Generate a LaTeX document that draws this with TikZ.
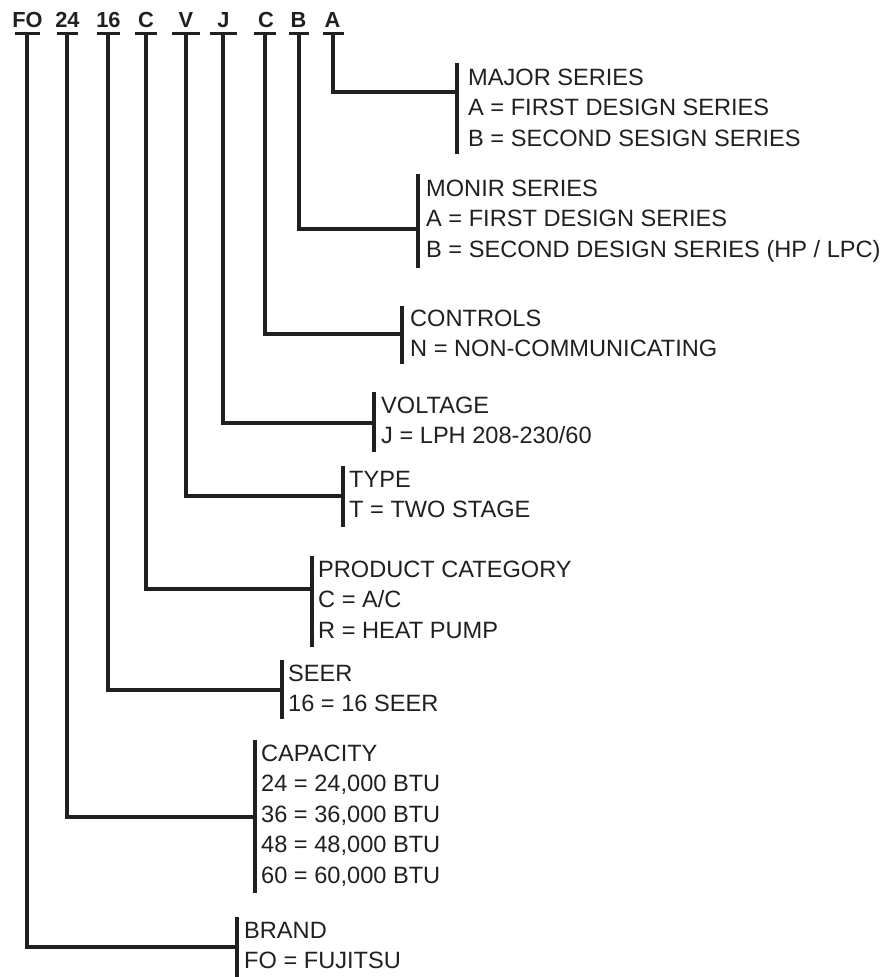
\documentclass[tikz,border=0pt]{standalone}
\usepackage{fontspec}
\setmainfont{Liberation Sans}
\definecolor{ink}{RGB}{35,31,32}
\begin{document}
\begin{tikzpicture}[x=1pt,y=-1pt,
  hdr/.style={font=\fontsize{21.8}{24}\selectfont\bfseries, text=ink, inner sep=0pt, anchor=base},
  lbl/.style={font=\fontsize{23.6}{28}\selectfont, text=ink, inner sep=0pt, anchor=base west},
  wire/.style={draw=ink, line width=3.2pt},
  uline/.style={draw=ink, line width=3.2pt}]
\useasboundingbox (0,0) rectangle (894,977);

% header codes
\node[hdr] (hFO) at (27.5,27.5) {FO};
\node[hdr] (h24) at (67.5,27.5) {24};
\node[hdr] (h16) at (108.5,27.5) {16};
\node[hdr] (hC1) at (146,27.5) {C};
\node[hdr] (hV)  at (186,27.5) {V};
\node[hdr] (hJ)  at (223.5,27.5) {J};
\node[hdr] (hC2) at (266,27.5) {C};
\node[hdr] (hB)  at (298.5,27.5) {B};
\node[hdr] (hA)  at (332.5,27.5) {A};

% underline anchor points
\coordinate (uFO) at (27,33.5);
\coordinate (u24) at (67,33.5);
\coordinate (u16) at (108,33.5);
\coordinate (uC1) at (146,33.5);
\coordinate (uV)  at (186,33.5);
\coordinate (uJ)  at (223,33.5);
\coordinate (uC2) at (265,33.5);
\coordinate (uB)  at (299,33.5);
\coordinate (uA)  at (333,33.5);

\draw[uline] ([xshift=-12.5pt]uFO) -- ([xshift=12.5pt]uFO);
\draw[uline] ([xshift=-10.5pt]u24) -- ([xshift=10.5pt]u24);
\draw[uline] ([xshift=-11.5pt]u16) -- ([xshift=11.5pt]u16);
\draw[uline] ([xshift=-11pt]uC1) -- ([xshift=11pt]uC1);
\draw[uline] ([xshift=-14pt]uV) -- ([xshift=14pt]uV);
\draw[uline] ([xshift=-13.5pt]uJ) -- ([xshift=13.5pt]uJ);
\draw[uline] ([xshift=-11pt]uC2) -- ([xshift=11pt]uC2);
\draw[uline] ([xshift=-10pt]uB) -- ([xshift=10pt]uB);
\draw[uline] ([xshift=-10.5pt]uA) -- ([xshift=10.5pt]uA);

% junctions and brackets
\coordinate (jA) at (457,92);   \coordinate (tA) at (457,63);   \coordinate (bA) at (457,154);
\coordinate (jB) at (418,229);  \coordinate (tB) at (418,174);  \coordinate (bB) at (418,268);
\coordinate (jC2) at (402,334); \coordinate (tC2) at (402,306); \coordinate (bC2) at (402,364);
\coordinate (jJ) at (374,423);  \coordinate (tJ) at (374,392);  \coordinate (bJ) at (374,452);
\coordinate (jV) at (343,496);  \coordinate (tV) at (343,466);  \coordinate (bV) at (343,527);
\coordinate (jC1) at (312,589); \coordinate (tC1) at (312,556); \coordinate (bC1) at (312,647);
\coordinate (j16) at (282,690); \coordinate (t16) at (282,660); \coordinate (b16) at (282,719);
\coordinate (j24) at (255,817); \coordinate (t24) at (255,740); \coordinate (b24) at (255,893);
\coordinate (jFO) at (237,947); \coordinate (tFO) at (237,917); \coordinate (bFO) at (237,980);

\draw[wire] (uA) |- (jA);   \draw[wire] (tA) -- (bA);
\draw[wire] (uB) |- (jB);   \draw[wire] (tB) -- (bB);
\draw[wire] (uC2) |- (jC2); \draw[wire] (tC2) -- (bC2);
\draw[wire] (uJ) |- (jJ);   \draw[wire] (tJ) -- (bJ);
\draw[wire] (uV) |- (jV);   \draw[wire] (tV) -- (bV);
\draw[wire] (uC1) |- (jC1); \draw[wire] (tC1) -- (bC1);
\draw[wire] (u16) |- (j16); \draw[wire] (t16) -- (b16);
\draw[wire] (u24) |- (j24); \draw[wire] (t24) -- (b24);
\draw[wire] (uFO) |- (jFO); \draw[wire] (tFO) -- (bFO);

% labels
\node[lbl] (a1) at (468,85)    {MAJOR SERIES};
\node[lbl] (a2) at (468,115.5) {A = FIRST DESIGN SERIES};
\node[lbl] (a3) at (468,146)   {B = SECOND SESIGN SERIES};

\node[lbl] (b1) at (426,196)   {MONIR SERIES};
\node[lbl] (b2) at (426,226.5) {A = FIRST DESIGN SERIES};
\node[lbl] (b3) at (426,257)   {B = SECOND DESIGN SERIES (HP / LPC)};

\node[lbl] (c1) at (410,326)   {CONTROLS};
\node[lbl] (c2) at (410,356.5) {N = NON-COMMUNICATING};

\node[lbl] (v1) at (381,413)   {VOLTAGE};
\node[lbl] (v2) at (381,443.5) {J = LPH 208-230/60};

\node[lbl] (t1) at (349,487)   {TYPE};
\node[lbl] (t2) at (349,517.5) {T = TWO STAGE};

\node[lbl] (p1) at (318,577)   {PRODUCT CATEGORY};
\node[lbl] (p2) at (318,607.5) {C = A/C};
\node[lbl] (p3) at (318,638)   {R = HEAT PUMP};

\node[lbl] (s1) at (288,681)   {SEER};
\node[lbl] (s2) at (288,711.5) {16 = 16 SEER};

\node[lbl] (k1) at (261,761)   {CAPACITY};
\node[lbl] (k2) at (261,791.5) {24 = 24,000 BTU};
\node[lbl] (k3) at (261,822)   {36 = 36,000 BTU};
\node[lbl] (k4) at (261,852.5) {48 = 48,000 BTU};
\node[lbl] (k5) at (261,883)   {60 = 60,000 BTU};

\node[lbl] (f1) at (244,938)   {BRAND};
\node[lbl] (f2) at (244,968.5) {FO = FUJITSU};
\end{tikzpicture}
\end{document}
